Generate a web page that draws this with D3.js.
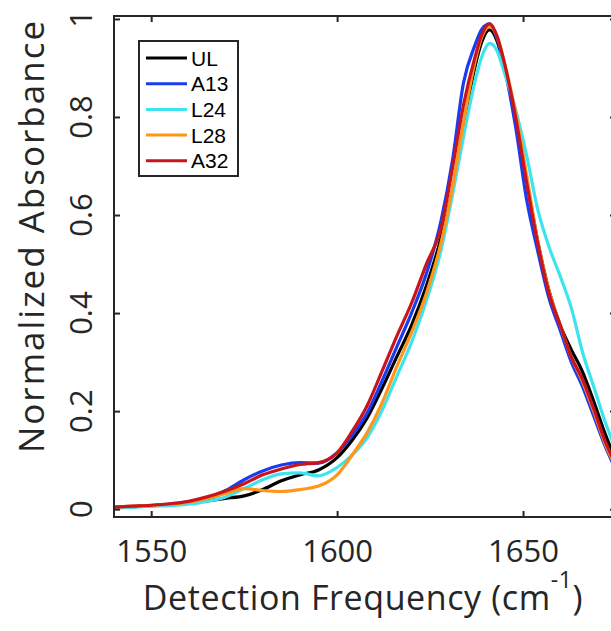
<!DOCTYPE html>
<html>
<head>
<meta charset="utf-8">
<script src="https://cdn.jsdelivr.net/npm/d3@7"></script>
<style>
  html, body { margin: 0; padding: 0; background: #fff; overflow: hidden; }
  svg { display: block; }
</style>
</head>
<body>
<div id="chart"></div>
<script>
// --- data ---
const freqs = [1540, 1545, 1550, 1555, 1560, 1565, 1570, 1575, 1580, 1585, 1590, 1595,
  1600, 1604, 1608, 1612, 1616, 1620, 1624, 1628, 1631, 1634, 1637, 1639, 1641, 1643,
  1645, 1648, 1651, 1654, 1657, 1660, 1663, 1666, 1669, 1672, 1675];

const absUL  = [0.003, 0.005, 0.007, 0.009, 0.012, 0.017, 0.022, 0.027, 0.040, 0.058, 0.070, 0.080,
  0.105, 0.140, 0.185, 0.245, 0.310, 0.375, 0.455, 0.555, 0.650, 0.780, 0.900, 0.955, 0.978, 0.955,
  0.900, 0.800, 0.670, 0.545, 0.445, 0.375, 0.325, 0.280, 0.220, 0.155, 0.100];
const absA13 = [0.003, 0.005, 0.007, 0.010, 0.014, 0.022, 0.038, 0.060, 0.078, 0.090, 0.095, 0.094,
  0.115, 0.150, 0.195, 0.260, 0.330, 0.400, 0.480, 0.590, 0.710, 0.870, 0.945, 0.980, 0.990, 0.960,
  0.900, 0.780, 0.630, 0.525, 0.430, 0.365, 0.300, 0.250, 0.190, 0.130, 0.080];
const absL24 = [0.002, 0.004, 0.006, 0.007, 0.010, 0.016, 0.025, 0.042, 0.060, 0.072, 0.074, 0.068,
  0.085, 0.110, 0.145, 0.200, 0.270, 0.340, 0.425, 0.530, 0.640, 0.760, 0.870, 0.925, 0.950, 0.935,
  0.890, 0.815, 0.720, 0.610, 0.535, 0.475, 0.410, 0.320, 0.250, 0.180, 0.120];
const absL28 = [0.004, 0.006, 0.008, 0.010, 0.014, 0.022, 0.032, 0.042, 0.038, 0.036, 0.040, 0.047,
  0.070, 0.110, 0.155, 0.215, 0.290, 0.360, 0.440, 0.545, 0.655, 0.790, 0.910, 0.965, 0.985, 0.965,
  0.910, 0.810, 0.680, 0.545, 0.445, 0.375, 0.310, 0.260, 0.200, 0.135, 0.085];
const absA32 = [0.004, 0.006, 0.008, 0.011, 0.016, 0.025, 0.037, 0.052, 0.070, 0.082, 0.091, 0.095,
  0.115, 0.158, 0.210, 0.280, 0.352, 0.420, 0.500, 0.575, 0.695, 0.825, 0.920, 0.970, 0.990, 0.965,
  0.910, 0.800, 0.665, 0.540, 0.440, 0.375, 0.310, 0.265, 0.205, 0.140, 0.090];

const seriesNames = ["UL", "A13", "L24", "L28", "A32"];
const seriesValues = [absUL, absA13, absL24, absL28, absA32];
const seriesColors = ["#000000", "#1a3cf0", "#3de3ee", "#ff9619", "#c8141c"];

const xTicks = [1550, 1600, 1650];
const yTicks = [0, 0.2, 0.4, 0.6, 0.8, 1];

// --- layout ---
const W = 611, H = 631;
const plot = { left: 114, top: 16, right: 616, bottom: 517 };
const ink = "#262626";
const font = "'Open Sans', Lato, sans-serif";

const x = d3.scaleLinear().domain([1540, 1675]).range([plot.left, plot.right]);
const y = d3.scaleLinear().domain([-0.016, 1.006]).range([plot.bottom, plot.top]);

const svg = d3.select("#chart").append("svg")
  .attr("width", W)
  .attr("height", H);

svg.append("defs").append("clipPath").attr("id", "clip")
  .append("rect")
  .attr("x", plot.left).attr("y", plot.top)
  .attr("width", plot.right - plot.left).attr("height", plot.bottom - plot.top);

// --- curves ---
const line = d3.line()
  .x((d, i) => x(freqs[i]))
  .y(d => y(d))
  .curve(d3.curveMonotoneX);

svg.append("g").attr("clip-path", "url(#clip)")
  .selectAll("path")
  .data(seriesValues)
  .join("path")
  .attr("d", d => line(d))
  .attr("fill", "none")
  .attr("stroke", (d, i) => seriesColors[i])
  .attr("stroke-width", 3.2)
  .attr("stroke-linejoin", "round");

// --- axes (box with inward ticks on all sides) ---
const tickLen = 6;
const axB = svg.append("g").attr("transform", `translate(0,${plot.bottom})`)
  .call(d3.axisBottom(x).tickValues(xTicks).tickSizeInner(-tickLen).tickSizeOuter(0).tickFormat(d3.format("d")));
const axT = svg.append("g").attr("transform", `translate(0,${plot.top})`)
  .call(d3.axisTop(x).tickValues(xTicks).tickSizeInner(-tickLen).tickSizeOuter(0).tickFormat(""));
const axL = svg.append("g").attr("transform", `translate(${plot.left},0)`)
  .call(d3.axisLeft(y).tickValues(yTicks).tickSizeInner(-tickLen).tickSizeOuter(0).tickFormat(""));
const axR = svg.append("g").attr("transform", `translate(${plot.right},0)`)
  .call(d3.axisRight(y).tickValues(yTicks).tickSizeInner(-tickLen).tickSizeOuter(0).tickFormat(""));

[axB, axT, axL, axR].forEach(g => {
  g.select(".domain").remove();
  g.selectAll(".tick line").attr("stroke", ink).attr("stroke-width", 2);
});

axB.selectAll(".tick text")
  .attr("font-family", font)
  .attr("font-size", 31)
  .attr("fill", ink)
  .attr("dy", null)
  .attr("y", 45);

// y tick labels, rotated like the reference
svg.append("g").selectAll("text")
  .data(yTicks)
  .join("text")
  .attr("transform", d => `translate(92,${y(d)}) rotate(-90)`)
  .attr("text-anchor", "middle")
  .attr("font-family", font)
  .attr("font-size", 31)
  .attr("fill", ink)
  .text(d => d3.format("~g")(d));

// frame
svg.append("rect")
  .attr("x", plot.left).attr("y", plot.top)
  .attr("width", plot.right - plot.left).attr("height", plot.bottom - plot.top)
  .attr("fill", "none")
  .attr("stroke", ink)
  .attr("stroke-width", 2);

// --- axis titles ---
const xTitle = svg.append("text")
  .attr("x", (plot.left + plot.right) / 2 - 2)
  .attr("y", 610)
  .attr("text-anchor", "middle")
  .attr("font-family", font)
  .attr("font-size", 34)
  .attr("letter-spacing", 0.6)
  .attr("fill", ink);
xTitle.append("tspan").text("Detection Frequency (cm");
xTitle.append("tspan").attr("dy", -22).attr("font-size", 23).text("-1");
xTitle.append("tspan").attr("dy", 22).text(")");

svg.append("text")
  .attr("transform", "translate(44,236) rotate(-90)")
  .attr("text-anchor", "middle")
  .attr("font-family", font)
  .attr("font-size", 35)
  .attr("letter-spacing", 2)
  .attr("fill", ink)
  .text("Normalized Absorbance");

// --- legend ---
const leg = svg.append("g");
leg.append("rect")
  .attr("x", 139).attr("y", 41)
  .attr("width", 99).attr("height", 135)
  .attr("fill", "#fff")
  .attr("stroke", ink)
  .attr("stroke-width", 2);

const rows = leg.selectAll("g.row")
  .data(seriesNames)
  .join("g")
  .attr("class", "row")
  .attr("transform", (d, i) => `translate(0,${58 + i * 25.7})`);

rows.append("line")
  .attr("x1", 146).attr("x2", 187)
  .attr("stroke", (d, i) => seriesColors[i])
  .attr("stroke-width", 3);

rows.append("text")
  .attr("x", 191)
  .attr("dy", "0.36em")
  .attr("font-family", "'Liberation Sans', Arial, sans-serif")
  .attr("font-size", 21)
  .attr("fill", "#000")
  .text(d => d);
</script>
</body>
</html>
